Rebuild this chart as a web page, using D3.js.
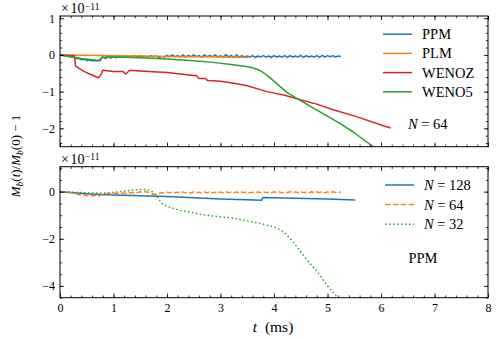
<!DOCTYPE html>
<html><head><meta charset="utf-8">
<script src="https://cdn.jsdelivr.net/npm/d3@7"></script>
<style>
body{margin:0;background:#fff}
svg{display:block}
text{font-family:"Liberation Serif","Times New Roman",serif;fill:#000}
</style>
</head><body>
<svg id="c" width="498" height="339"></svg>
<script>
// ---------- data (values in units of 1e-11) ----------
const xTicks = [0,1,2,3,4,5,6,7,8];
const topYTicks = [1,0,-1,-2];
const botYTicks = [0,-2,-4];

const sampleStep = 0.05; // time step (ms) of the densely sampled series

// top panel, N = 64
const ppmTop = [0,-0.01,-0.03,-0.02,-0.06,-0.05,-0.1,-0.09,-0.13,-0.12,-0.15,-0.14,-0.16,-0.15,-0.16,-0.13,
  -0.05,-0.1,-0.04,-0.09,-0.03,-0.08,-0.04,-0.07,-0.03,-0.06,
  -0.04,-0.06,-0.02,-0.05,-0.03,-0.05,-0.04,-0.06,-0.02,-0.05,
  -0.03,-0.07,-0.04,-0.06,-0.01,-0.05,0.0,-0.05,-0.02,-0.06,
  0.0,-0.06,-0.01,-0.05,0.0,-0.05,-0.02,-0.06,0.0,-0.05,
  -0.01,-0.05,0.0,-0.06,-0.02,-0.07,0.01,-0.06,-0.01,-0.07,
  0.0,-0.06,-0.02,-0.06,-0.03,-0.06,-0.02,-0.07,-0.03,-0.06,
  -0.02,-0.06,-0.03,-0.07,-0.02,-0.06,-0.03,-0.06,-0.02,-0.07,
  -0.02,-0.06,-0.03,-0.06,-0.01,-0.07,-0.02,-0.06,-0.03,-0.06,
  -0.02,-0.07,-0.01,-0.06,-0.02,-0.05,-0.02,-0.06,-0.03,-0.04];

const plmT = [0,0.5,1,1.5,2,2.5,3,3.51];
const plmV = [0,-0.01,-0.02,-0.03,-0.04,-0.05,-0.06,-0.07];

const wenozT = [0,0.27,0.29,0.35,0.45,0.55,0.65,0.72,0.76,0.8,1.0,1.18,1.22,1.26,1.3,1.5,2.0,2.5,2.55,2.6,2.72,2.76,3.0,3.25,3.5,3.87,4.2,4.49,4.8,5.12,5.5,5.99,6.18];
const wenozV = [0,-0.02,-0.3,-0.36,-0.45,-0.52,-0.58,-0.62,-0.55,-0.42,-0.45,-0.45,-0.52,-0.48,-0.42,-0.44,-0.48,-0.56,-0.56,-0.64,-0.64,-0.70,-0.72,-0.77,-0.84,-1.0,-1.1,-1.22,-1.34,-1.5,-1.66,-1.9,-1.99];

const weno5T = [0,0.2,0.4,0.6,0.75,0.78,0.85,1.0,1.5,2.0,2.5,2.9,3.2,3.45,3.6,3.72,3.82,3.92,4.02,4.24,4.49,4.81,5.24,5.5,5.9];
const weno5V = [0,-0.05,-0.1,-0.13,-0.16,-0.08,-0.06,-0.06,-0.08,-0.11,-0.16,-0.21,-0.26,-0.31,-0.35,-0.41,-0.5,-0.62,-0.74,-1.02,-1.24,-1.51,-1.87,-2.12,-2.55];

// bottom panel, PPM
const n128T = [0,0.25,0.5,0.75,1.0,1.5,2.0,2.5,3.0,3.5,3.77,3.79,4.2,4.6,5.0,5.52];
const n128V = [0,-0.05,-0.09,-0.12,-0.14,-0.17,-0.21,-0.26,-0.31,-0.34,-0.36,-0.25,-0.27,-0.29,-0.31,-0.35];

const n64Bot = [0,-0.01,-0.03,-0.02,-0.05,-0.04,-0.09,-0.12,-0.15,-0.13,-0.17,-0.14,-0.18,-0.15,-0.19,-0.16,
  -0.12,-0.1,-0.08,-0.1,-0.06,-0.09,-0.06,-0.08,-0.05,-0.08,
  -0.04,-0.06,-0.02,-0.04,0.0,-0.02,0.01,-0.03,-0.05,-0.12,
  -0.13,-0.08,-0.04,-0.06,-0.02,-0.05,-0.01,-0.04,-0.02,-0.05,
  -0.01,-0.05,-0.02,-0.06,0.0,-0.04,-0.02,-0.06,-0.01,-0.05,
  0.0,-0.05,-0.02,-0.06,-0.01,-0.05,0.0,-0.04,-0.02,-0.05,
  -0.01,-0.05,-0.01,-0.04,0.0,-0.05,-0.02,-0.05,-0.01,-0.04,
  0.0,-0.04,-0.02,-0.05,0.0,-0.04,-0.01,-0.05,-0.02,-0.04,
  0.0,-0.05,-0.01,-0.04,0.0,-0.04,-0.02,-0.05,0.0,-0.04,
  -0.01,-0.04,0.0,-0.05,-0.01,-0.04,0.0,-0.03,-0.01,-0.02];

const n32T = [0,0.3,0.6,0.9,1.2,1.4,1.55,1.7,1.8,1.9,2.0,2.1,2.25,2.4,2.62,2.84,3.25,3.75,4.0,4.18,4.3,4.43,4.62,4.81,4.99,5.18];
const n32V = [0,-0.03,-0.06,-0.05,0.02,0.08,0.1,0.05,-0.15,-0.5,-0.62,-0.7,-0.8,-0.85,-0.96,-1.03,-1.13,-1.35,-1.5,-1.7,-1.98,-2.34,-2.91,-3.4,-3.97,-4.47];

const colors = {blue:"#1f77b4", orange:"#ff7f0e", red:"#d62728", green:"#2ca02c"};

// ---------- layout ----------
const svg = d3.select("#c");
const L = 60, R = 488;
const x = d3.scaleLinear().domain([0,8]).range([L,R]);

const zip = (T,V) => T.map((t,i)=>[t,V[i]]);
const grid = V => V.map((v,i)=>[i*sampleStep, v]);

function panel(id, y0, y1, dom, majors, minorStep, showX, series){
  const y = d3.scaleLinear().domain(dom).range([y1,y0]);
  const g = svg.append("g");
  g.append("clipPath").attr("id","clip"+id).append("rect")
    .attr("x",L).attr("y",y0).attr("width",R-L).attr("height",y1-y0);
  const line = d3.line().x(d=>x(d[0])).y(d=>y(d[1]));
  const pg = g.append("g").attr("clip-path",`url(#clip${id})`);
  series.forEach(s=>{
    pg.append("path").datum(s.data).attr("d",line)
      .attr("fill","none").attr("stroke",s.color).attr("stroke-width",1.5)
      .attr("stroke-dasharray",s.dash||null).attr("stroke-linejoin","round");
  });
  const xMinor = d3.range(0,8.0001,0.2);
  const yMinor = d3.range(Math.ceil(dom[0]/minorStep)*minorStep, dom[1]+1e-9, minorStep);
  const tickStyle = a => a.call(s=>s.select(".domain").remove())
     .call(s=>s.selectAll("line").attr("stroke","#000").attr("stroke-width",0.8));
  g.append("g").attr("transform",`translate(0,${y1})`)
    .call(d3.axisBottom(x).tickValues(xMinor).tickSize(-2.2).tickFormat("")).call(tickStyle);
  g.append("g").attr("transform",`translate(0,${y0})`)
    .call(d3.axisTop(x).tickValues(xMinor).tickSize(-2.2).tickFormat("")).call(tickStyle);
  g.append("g").attr("transform",`translate(${L},0)`)
    .call(d3.axisLeft(y).tickValues(yMinor).tickSize(-2.2).tickFormat("")).call(tickStyle);
  g.append("g").attr("transform",`translate(${R},0)`)
    .call(d3.axisRight(y).tickValues(yMinor).tickSize(-2.2).tickFormat("")).call(tickStyle);
  const fmt = v => (v<0?"\u2212":"")+Math.abs(v);
  const xb = g.append("g").attr("transform",`translate(0,${y1})`)
    .call(d3.axisBottom(x).tickValues(xTicks).tickSize(-4.2).tickPadding(6).tickFormat(showX?fmt:"")).call(tickStyle);
  xb.selectAll("text").attr("font-size",12);
  g.append("g").attr("transform",`translate(0,${y0})`)
    .call(d3.axisTop(x).tickValues(xTicks).tickSize(-4.2).tickFormat("")).call(tickStyle);
  const yl = g.append("g").attr("transform",`translate(${L},0)`)
    .call(d3.axisLeft(y).tickValues(majors).tickSize(-4.2).tickPadding(5).tickFormat(fmt)).call(tickStyle);
  yl.selectAll("text").attr("font-size",12);
  g.append("g").attr("transform",`translate(${R},0)`)
    .call(d3.axisRight(y).tickValues(majors).tickSize(-4.2).tickFormat("")).call(tickStyle);
  g.append("rect").attr("x",L).attr("y",y0).attr("width",R-L).attr("height",y1-y0)
    .attr("fill","none").attr("stroke","#000").attr("stroke-width",1);
  const ot = g.append("text").attr("x",L+1).attr("y",y0-3).attr("font-size",14);
  ot.append("tspan").text("\u00d7");
  ot.append("tspan").attr("dx",1.5).text("10");
  ot.append("tspan").attr("dy",-3.5).attr("dx",0.5).attr("font-size",9.5).text("\u221211");
  return {g,y};
}

const topPanel = panel("t", 16, 146.7, [-2.5,1.06], topYTicks, 0.2, false, [
  {data:grid(ppmTop), color:colors.blue},
  {data:zip(plmT,plmV), color:colors.orange},
  {data:zip(wenozT,wenozV), color:colors.red},
  {data:zip(weno5T,weno5V), color:colors.green}
]);
const botPanel = panel("b", 166.7, 297.7, [-4.5,1.06], botYTicks, 0.5, true, [
  {data:zip(n128T,n128V), color:colors.blue},
  {data:grid(n64Bot), color:colors.orange, dash:"5.5,2.4"},
  {data:zip(n32T,n32V), color:colors.green, dash:"1.5,2.5"}
]);

const FS = 14.5;
function legend(items, x0, ys, xt){
  items.forEach((it,i)=>{
    svg.append("line").attr("x1",x0).attr("x2",x0+29).attr("y1",ys[i]).attr("y2",ys[i])
      .attr("stroke",it.color).attr("stroke-width",1.5).attr("stroke-dasharray",it.dash||null);
    const t = svg.append("text").attr("x",xt).attr("y",ys[i]).attr("dy","0.35em").attr("font-size",FS);
    if(it.n){
      t.append("tspan").attr("font-style","italic").text("N");
      t.append("tspan").text(" = "+it.n);
    } else t.text(it.label);
  });
}
legend([{label:"PPM",color:colors.blue},{label:"PLM",color:colors.orange},
        {label:"WENOZ",color:colors.red},{label:"WENO5",color:colors.green}],
       383, [34.2,53.4,72.6,91.8], 422);
legend([{n:"128",color:colors.blue},{n:"64",color:colors.orange,dash:"5.5,2.4"},
        {n:"32",color:colors.green,dash:"1.5,2.5"}],
       385, [185,204.6,224.3], 424);

const nt = svg.append("text").attr("x",408).attr("y",129).attr("font-size",FS);
nt.append("tspan").attr("font-style","italic").text("N");
nt.append("tspan").text(" = 64");
svg.append("text").attr("x",423).attr("y",258).attr("dy","0.35em").attr("text-anchor","middle")
  .attr("font-size",FS).text("PPM");

const xl = svg.append("text").attr("x",273).attr("y",332).attr("text-anchor","middle").attr("font-size",15.5);
xl.append("tspan").attr("font-style","italic").text("t");
xl.append("tspan").attr("dx",4).text(" (ms)");

const ylab = svg.append("text").attr("transform","translate(20,156) rotate(-90)")
  .attr("text-anchor","middle").attr("font-size",13);
ylab.append("tspan").attr("font-style","italic").text("M");
ylab.append("tspan").attr("font-style","italic").attr("font-size",9.5).attr("dy",2.5).text("b");
ylab.append("tspan").attr("dy",-2.5).text("(");
ylab.append("tspan").attr("font-style","italic").text("t");
ylab.append("tspan").text(")/");
ylab.append("tspan").attr("font-style","italic").text("M");
ylab.append("tspan").attr("font-style","italic").attr("font-size",9.5).attr("dy",2.5).text("b");
ylab.append("tspan").attr("dy",-2.5).text("(0) \u2212 1");
</script>
</body></html>
